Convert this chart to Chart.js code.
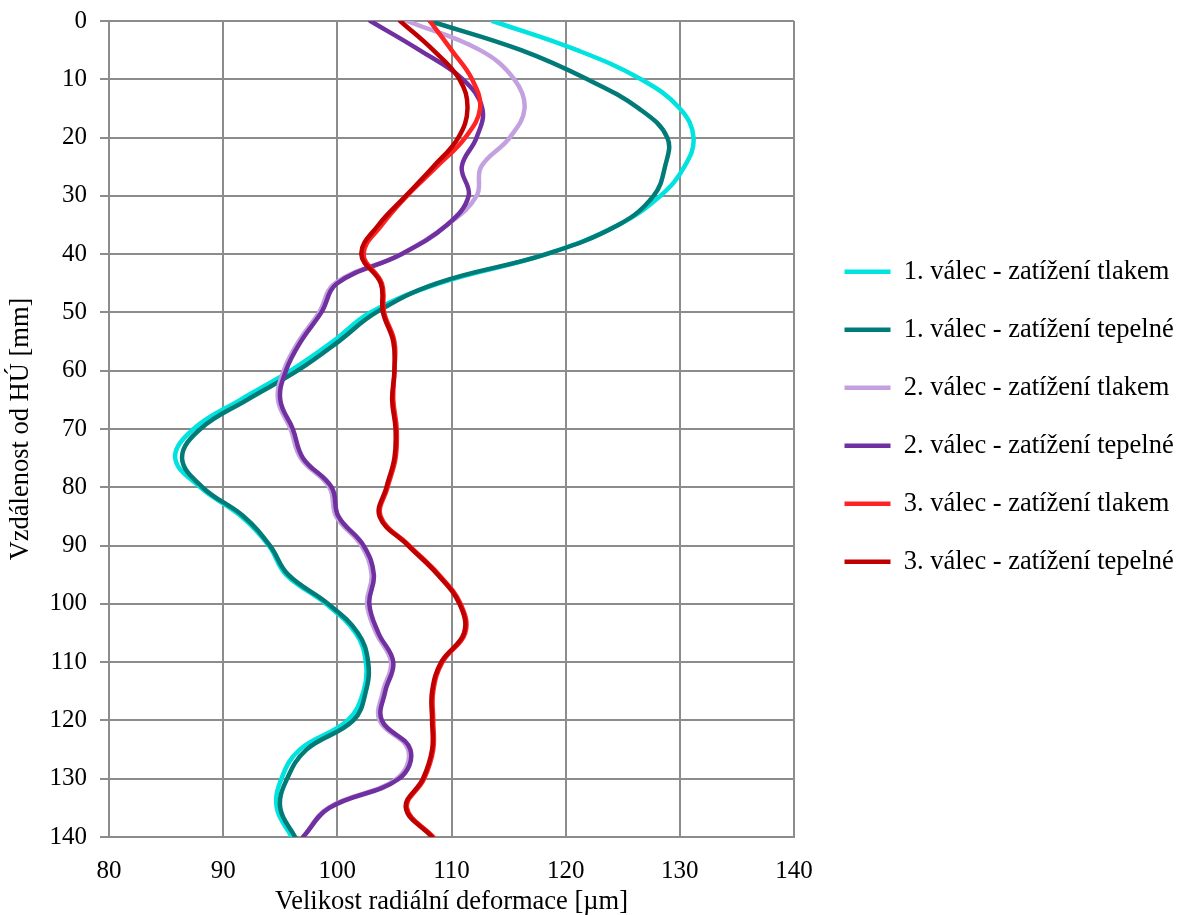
<!DOCTYPE html>
<html>
<head>
<meta charset="utf-8">
<script src="https://cdn.jsdelivr.net/npm/chart.js@4/dist/chart.umd.min.js"></script>
<style>
    html, body { margin: 0; padding: 0; background: #fff; }
</style>
</head>
<body>
<canvas id="deform-chart" width="1178" height="915"></canvas>
<script>
// depth from HÚ [mm]
const depthMm = [0, 5, 10, 15, 20, 25, 30, 35, 40, 45, 50, 55, 60, 65, 70,
    75, 80, 85, 90, 95, 100, 105, 110, 115, 120, 125, 130, 135, 140];

// radial deformation [µm], one value per depth
const s1Pressure = [113.6, 121.0, 126.6, 130.0, 131.2, 130.4, 128.3, 124.6, 118.3, 108.9, 102.9, 99.6, 95.9, 91.5, 87.4,
    85.8, 88.0, 91.6, 94.0, 95.5, 99.0, 101.6, 102.5, 102.3, 100.9, 96.7, 95.1, 94.7, 96.0];
const s1Thermal = [108.1, 116.1, 121.9, 126.4, 128.9, 128.7, 127.7, 124.6, 118.3, 108.7, 103.4, 100.1, 96.5, 92.1, 88.0,
    86.4, 88.2, 91.8, 94.1, 95.7, 99.2, 101.8, 102.7, 102.5, 101.4, 97.3, 95.6, 95.0, 96.3];
const s2Pressure = [106.1, 112.5, 115.5, 116.4, 115.1, 112.6, 112.2, 109.6, 105.6, 99.8, 98.4, 96.6, 95.3, 94.8, 95.9,
    96.8, 99.3, 99.9, 102.1, 103.0, 102.6, 103.4, 104.7, 104.0, 103.7, 106.2, 105.2, 99.2, 97.0];
const s2Thermal = [102.9, 107.2, 111.0, 112.7, 112.2, 110.9, 111.5, 109.6, 105.6, 100.0, 98.6, 96.8, 95.5, 95.0, 96.1,
    97.0, 99.5, 100.1, 102.3, 103.2, 102.8, 103.6, 104.9, 104.2, 103.9, 106.4, 105.4, 99.3, 97.0];
const s3Pressure = [108.1, 110.0, 111.8, 112.5, 111.2, 108.7, 106.1, 103.9, 102.3, 103.9, 104.1, 105.0, 105.0, 104.9, 105.2,
    105.1, 104.4, 103.8, 106.3, 108.9, 110.8, 111.2, 109.2, 108.4, 108.4, 108.4, 107.6, 106.1, 108.4];
const s3Thermal = [105.5, 108.4, 110.7, 111.4, 110.6, 108.4, 106.0, 103.6, 102.1, 103.8, 104.0, 104.9, 105.0, 104.8, 105.1,
    105.0, 104.3, 103.7, 106.2, 108.8, 110.7, 111.1, 109.1, 108.3, 108.3, 108.3, 107.5, 106.0, 108.3];

const seriesLabels = [
    "1. válec - zatížení tlakem",
    "1. válec - zatížení tepelné",
    "2. válec - zatížení tlakem",
    "2. válec - zatížení tepelné",
    "3. válec - zatížení tlakem",
    "3. válec - zatížení tepelné",
];
const seriesValues = [s1Pressure, s1Thermal, s2Pressure, s2Thermal, s3Pressure, s3Thermal];
const seriesColors = ["#00E3DF", "#007B77", "#C3A0E0", "#7030A0", "#FF2424", "#C00000"];

const gridColor = "#8C8C8C";
const fontFamily = "'Liberation Serif', 'Times New Roman', serif";
const tickSize = 25;
const textSize = 26.5;

Chart.defaults.font.family = fontFamily;
Chart.defaults.font.size = tickSize;
Chart.defaults.color = "#000";

const datasets = seriesValues.map((vals, i) => ({
    label: seriesLabels[i],
    data: vals.map((v, k) => ({x: v, y: depthMm[k]})),
    borderColor: seriesColors[i],
    backgroundColor: seriesColors[i],
    borderWidth: 4.5,
    borderCapStyle: "round",
    borderJoinStyle: "round",
    showLine: true,
    tension: 0.4,
    pointRadius: 0,
    pointHoverRadius: 0,
    // later series lie on top
    order: seriesValues.length - i,
}));

const chart_el = document.getElementById("deform-chart");

new Chart(chart_el, {
    type: "scatter",
    data: {datasets: datasets},
    options: {
        responsive: false,
        animation: false,
        devicePixelRatio: 1,
        layout: {padding: {top: 21, left: 0, right: 0, bottom: 0}},
        plugins: {
            tooltip: {enabled: false},
            legend: {
                position: "right",
                align: "start",
                fullSize: false,
                maxWidth: 365,
                // blank title only pushes the items down
                title: {display: true, text: "", font: {size: 10}, padding: {top: 194, bottom: 0}},
                labels: {
                    usePointStyle: true,
                    pointStyle: "line",
                    pointStyleWidth: 46,
                    padding: 58 - textSize,
                    color: "#000",
                    font: {size: textSize},
                    sort: (a, b) => a.datasetIndex - b.datasetIndex,
                },
            },
        },
        scales: {
            x: {
                type: "linear",
                position: "bottom",
                min: 80,
                max: 140,
                ticks: {stepSize: 10, padding: 19, font: {size: tickSize}},
                grid: {color: gridColor, lineWidth: 2, drawTicks: false},
                border: {color: gridColor, width: 2},
                title: {
                    display: true,
                    text: "Velikost radiální deformace [µm]",
                    font: {size: textSize, lineHeight: 1.0},
                    padding: {top: 0, bottom: 0},
                },
                afterFit: (scale) => {
                    scale.height = 78;
                    scale.paddingLeft = 0;
                    scale.paddingRight = 0;
                },
            },
            y: {
                type: "linear",
                position: "left",
                min: 0,
                max: 140,
                reverse: true,
                ticks: {stepSize: 10, padding: 13, font: {size: tickSize}},
                grid: {color: gridColor, lineWidth: 2, tickLength: 9},
                border: {color: gridColor, width: 2},
                title: {
                    display: true,
                    text: "Vzdálenost od HÚ [mm]",
                    font: {size: textSize},
                    padding: {top: 5, bottom: 0},
                },
                afterFit: (scale) => {
                    scale.width = 109;
                    scale.paddingTop = 0;
                    scale.paddingBottom = 0;
                },
            },
            // empty spacer between plot and legend
            gap: {
                type: "linear",
                position: "right",
                display: true,
                ticks: {display: false},
                grid: {display: false},
                border: {display: false},
                afterFit: (scale) => {
                    scale.width = 19;
                    scale.paddingTop = 0;
                    scale.paddingBottom = 0;
                },
            },
        },
    },
});
</script>
</body>
</html>
